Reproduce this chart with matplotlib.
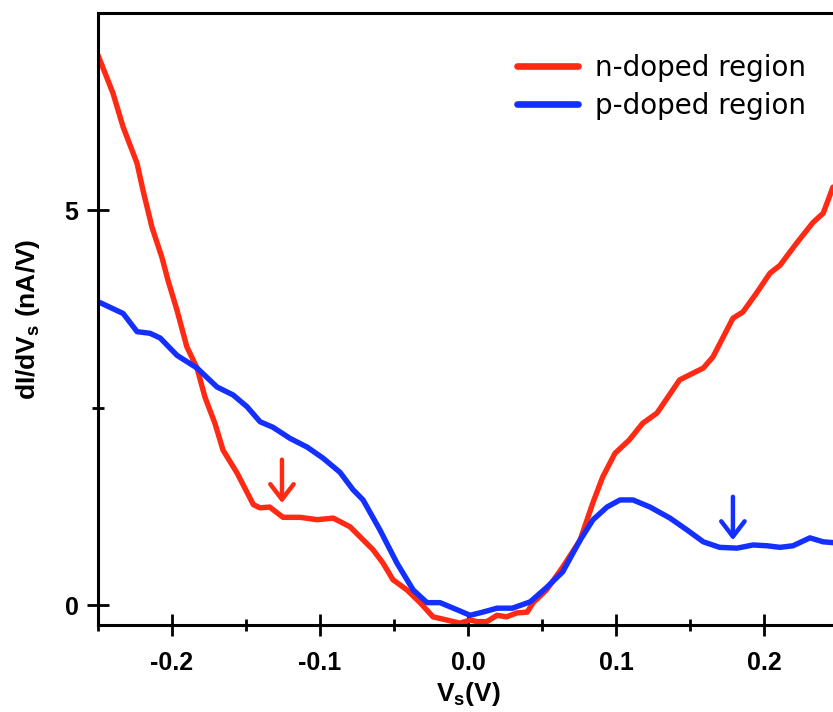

import matplotlib

matplotlib.use("Agg")
import matplotlib.pyplot as plt
from matplotlib.ticker import MultipleLocator

plt.rcParams["font.family"] = ["Liberation Sans", "DejaVu Sans"]
plt.rcParams["mathtext.fontset"] = "custom"
plt.rcParams["mathtext.rm"] = "Liberation Sans"
plt.rcParams["mathtext.bf"] = "Liberation Sans:bold"

RED = "#ff2a14"
BLUE = "#1430ff"

# n-doped region (V, nA/V)
n_vs = [-0.25, -0.2399, -0.233, -0.2236, -0.2196, -0.2135, -0.2068, -0.2027,
        -0.1966, -0.19, -0.1831, -0.1777, -0.171, -0.1655, -0.156, -0.145,
        -0.1405, -0.134, -0.125, -0.1135, -0.102, -0.091, -0.0797, -0.0642,
        -0.0574, -0.0507, -0.0412, -0.0324, -0.0236, -0.0144, -0.0054, 0.0014,
        0.006, 0.0128, 0.0196, 0.026, 0.033, 0.040, 0.044, 0.053, 0.064,
        0.0757, 0.0845, 0.091, 0.0993, 0.109, 0.118, 0.1277, 0.143, 0.159,
        0.1655, 0.179, 0.1858, 0.195, 0.204, 0.2108, 0.222, 0.233, 0.24, 0.2466]
n_didv = [6.96, 6.48, 6.05, 5.59, 5.25, 4.78, 4.40, 4.11,
          3.73, 3.27, 3.0, 2.63, 2.30, 1.96, 1.67, 1.27,
          1.23, 1.24, 1.11, 1.11, 1.08, 1.10, 0.99, 0.70,
          0.53, 0.32, 0.19, 0.03, -0.15, -0.19, -0.23, -0.19,
          -0.21, -0.21, -0.13, -0.15, -0.10, -0.09, 0.03, 0.19, 0.48,
          0.82, 1.30, 1.62, 1.92, 2.09, 2.30, 2.43, 2.85, 3.0,
          3.14, 3.63, 3.71, 3.95, 4.20, 4.30, 4.58, 4.84, 4.96, 5.29]

# p-doped region (V, nA/V)
p_vs = [-0.25, -0.233, -0.2236, -0.2149, -0.208, -0.1966, -0.1831, -0.1696,
        -0.1588, -0.1493, -0.1405, -0.1318, -0.1203, -0.1088, -0.098, -0.0865,
        -0.0777, -0.0709, -0.0595, -0.048, -0.037, -0.0277, -0.0189, -0.0074,
        0.0014, 0.01, 0.0196, 0.030, 0.042, 0.053, 0.064, 0.0757, 0.0845,
        0.0939, 0.1027, 0.1115, 0.123, 0.1365, 0.148, 0.159, 0.170, 0.1818,
        0.1926, 0.202, 0.2108, 0.2196, 0.231, 0.24, 0.2466]
p_didv = [3.84, 3.69, 3.46, 3.44, 3.38, 3.16, 3.0, 2.76,
          2.66, 2.51, 2.32, 2.25, 2.11, 2.0, 1.86, 1.68,
          1.46, 1.33, 0.95, 0.53, 0.19, 0.03, 0.03, -0.06,
          -0.13, -0.09, -0.04, -0.04, 0.04, 0.22, 0.42, 0.82, 1.08,
          1.24, 1.33, 1.33, 1.24, 1.10, 0.95, 0.80, 0.73, 0.72,
          0.76, 0.75, 0.73, 0.75, 0.85, 0.80, 0.79]

# arrow markers: (x, y_tail, y_head)
n_arrow = (-0.1257, 1.84, 1.29)
p_arrow = (0.179, 1.37, 0.82)

fig = plt.figure(figsize=(8.33, 7.12), dpi=100, facecolor="white")
ax = fig.add_axes([98 / 833, 87 / 712, 740 / 833, 612 / 712])

ax.plot(n_vs, n_didv, color=RED, lw=3.9, label="n-doped region",
        solid_joinstyle="round", solid_capstyle="round")
ax.plot(p_vs, p_didv, color=BLUE, lw=3.9, label="p-doped region",
        solid_joinstyle="round", solid_capstyle="round")

for (xa, yt, yh), col in ((n_arrow, RED), (p_arrow, BLUE)):
    ax.annotate("", xy=(xa, yh), xytext=(xa, yt),
                arrowprops=dict(arrowstyle="->,head_length=0.55,head_width=0.42",
                                color=col, lw=3.2, mutation_scale=20,
                                shrinkA=0, shrinkB=0))

ax.set_xlim(-0.25, 0.25)
ax.set_ylim(-0.253, 7.494)

ax.xaxis.set_major_locator(MultipleLocator(0.1))
ax.xaxis.set_minor_locator(MultipleLocator(0.05))
ax.yaxis.set_major_locator(MultipleLocator(5))
ax.yaxis.set_minor_locator(MultipleLocator(2.5))
ax.xaxis.set_major_formatter(plt.FuncFormatter(lambda v, p: f"{v:.1f}".replace("-0.0", "0.0")))

ax.tick_params(which="major", direction="inout", length=16, width=2, labelsize=18)
ax.tick_params(which="minor", direction="inout", length=8, width=2)
ax.tick_params(axis="x", which="major", pad=11)
ax.tick_params(axis="y", which="major", pad=6)
ax.tick_params(top=False, right=False, which="both")
for lbl in ax.get_xticklabels() + ax.get_yticklabels():
    lbl.set_fontweight("bold")

for side in ("left", "bottom", "top"):
    ax.spines[side].set_linewidth(2.2)
ax.spines["right"].set_visible(False)

ax.set_xlabel(r"V$_\mathbf{s}$(V)", fontsize=19, fontweight="bold", labelpad=3)
ax.set_ylabel(r"dI/dV$_\mathbf{s}$ (nA/V)", fontsize=19, fontweight="bold", labelpad=16)

leg = ax.legend(loc="upper right", bbox_to_anchor=(806 / 833, 1 - 54 / 712),
                bbox_transform=fig.transFigure, frameon=False,
                prop={"family": "DejaVu Sans", "size": 20},
                borderpad=0, borderaxespad=0, handlelength=2.2, handletextpad=0.6,
                labelspacing=0.35)
for line in leg.get_lines():
    line.set_linewidth(4.8)

fig.savefig("out.png", dpi=100, facecolor="white")
